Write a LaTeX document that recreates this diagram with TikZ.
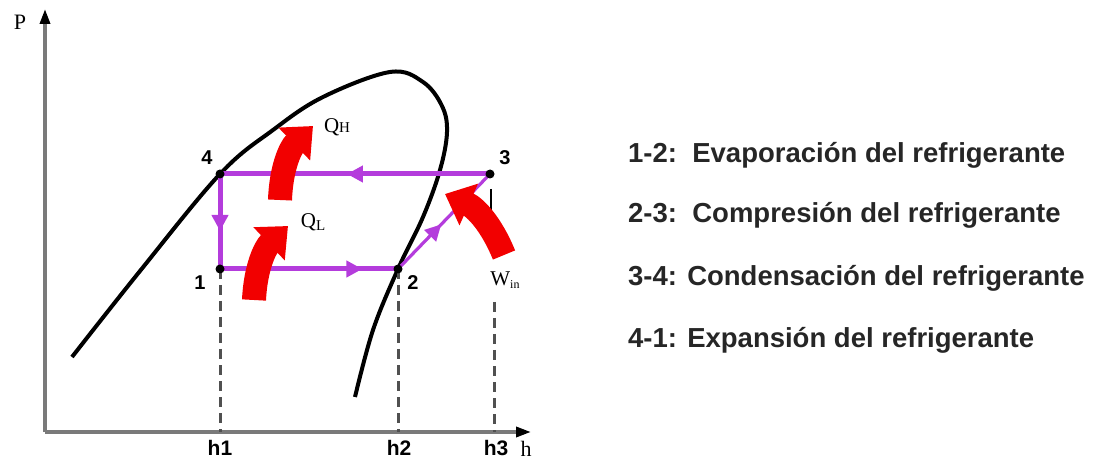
\documentclass[tikz,border=0pt]{standalone}
\usepackage{fontspec}
\setmainfont{Liberation Serif}
\setsansfont{Liberation Sans}
\usetikzlibrary{arrows.meta,decorations.markings}
\definecolor{cycPurple}{HTML}{B43CDC}
\definecolor{heatRed}{HTML}{F20000}
\definecolor{axGray}{HTML}{7A7A7A}
\definecolor{dashGray}{HTML}{505050}

\begin{document}
\begin{tikzpicture}[x=1pt,y=1pt,
	axis/.style={axGray,line width=3.4pt,-{Triangle[length=15pt,width=10pt,color=black]}},
	dome/.style={black,line width=4pt},
	cyc/.style={cycPurple,line width=5pt},
	midarrow/.style={postaction={decorate},decoration={markings,
		mark=at position #1 with {\arrow{Triangle[length=16pt,width=16pt]}}}},
	heat/.style={heatRed,line width=24pt,-{Triangle[length=26pt,width=44pt]}},
	guide/.style={dashGray,line width=3pt,dash pattern=on 10pt off 6pt},
	pnum/.style={font=\sffamily\bfseries\fontsize{20}{22}\selectfont,inner sep=0},
	tick/.style={font=\sffamily\bfseries\fontsize{21}{24}\selectfont,inner sep=0},
	serif/.style={font=\fontsize{21}{24}\selectfont,inner sep=0},
	legend/.style={font=\sffamily\bfseries\fontsize{27.5}{32}\selectfont,text=black!85,inner sep=0,anchor=west}]
	\useasboundingbox (0,0) rectangle (1093,464);

	% axes
	\coordinate (O) at (45,32);
	\coordinate (ytop) at (45,455);
	\coordinate (xend) at (531,32);
	\draw[axis] (O) -- (ytop);
	\draw[axis] (O) -- (xend);
	\node[serif,font=\fontsize{22}{24}\selectfont] (Plab) at (20,442) {P};
	\node[serif,font=\fontsize{22}{24}\selectfont] (hlab) at (526,15) {h};

	% cycle states
	\coordinate (p1) at (220,195);
	\coordinate (p2) at (398,195);
	\coordinate (p3) at (490,290);
	\coordinate (p4) at (220,290);
	\coordinate (t1) at (220,32);
	\coordinate (t2) at (398,32);
	\coordinate (t3) at (494,32);
	\coordinate (w3) at (494,162);

	% saturation dome
	\draw[dome] plot[smooth,tension=0.6] coordinates {(72,107) (140,193) (220,290) (273,334)
		(323,367) (390,392) (423,382) (442,358) (447,332) (440,294) (423,247) (398,195)
		(373,134) (355,67)};

	% projections
	\draw[guide] (p1) -- (t1);
	\draw[guide] (p2) -- (t2);
	\draw[guide] (w3) -- (t3);
	\draw[black,line width=2.4pt] (491,275) -- (491,252);

	% refrigeration cycle
	\draw[cyc,midarrow=0.53] (p3) -- (p4);
	\draw[cyc,midarrow=0.6] (p4) -- (p1);
	\draw[cyc,midarrow=0.8] (p1) -- (p2);
	\draw[cyc,line width=3.2pt,midarrow=0.47] (p2) -- (p3);
	\foreach \p in {p1,p2,p3,p4}
		\fill (\p) circle (4.5);

	\node[pnum] (n1) at (200,181) {1};
	\node[pnum] (n2) at (413,181) {2};
	\node[pnum] (n3) at (505,306) {3};
	\node[pnum] (n4) at (207,306) {4};

	\node[tick] (h1) at (220,16) {h1};
	\node[tick] (h2) at (399,16) {h2};
	\node[tick] (h3) at (496,16) {h3};

	% heat and work
	\coordinate (qh0) at (280,264);
	\coordinate (qh1) at (313,338);
	\coordinate (ql0) at (254,164);
	\coordinate (ql1) at (288,238);
	\coordinate (w0) at (504,209);
	\coordinate (w1) at (445,270);
	\draw[heat] (qh0) to[bend left=22] (qh1);
	\draw[heat] (ql0) to[bend left=22] (ql1);
	\draw[heat] (w0) to[bend right=22] (w1);
	\node[serif] (QH) at (337,337) {Q{\fontsize{15}{16}\selectfont H}};
	\node[serif] (QL) at (313,242) {Q\raisebox{-3pt}{\fontsize{15}{16}\selectfont L}};
	\node[serif] (Win) at (505,184) {W\raisebox{-3pt}{\fontsize{12}{13}\selectfont in}};

	% process list
	\node[legend] (l12) at (628,309) {1-2:\ \ Evaporación del refrigerante};
	\node[legend] (l23) at (628,249) {2-3:\ \ Compresión del refrigerante};
	\node[legend] (l34) at (628,186) {3-4: Condensación del refrigerante};
	\node[legend] (l41) at (628,124) {4-1: Expansión del refrigerante};
\end{tikzpicture}
\end{document}
